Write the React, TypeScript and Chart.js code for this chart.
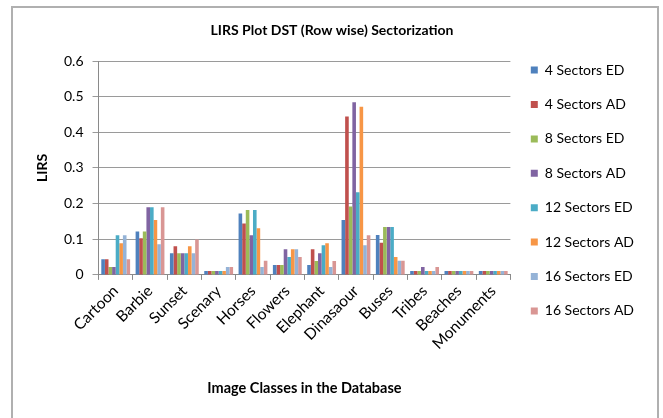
import { useEffect, useRef } from "react";
import { Chart, registerables } from "chart.js";

Chart.register(...registerables);

const categories = ["Cartoon", "Barbie", "Sunset", "Scenary", "Horses", "Flowers", "Elephant", "Dinasaour", "Buses", "Tribes", "Beaches", "Monuments"];
const seriesNames = ["4 Sectors ED", "4 Sectors AD", "8 Sectors ED", "8 Sectors AD", "12 Sectors ED", "12 Sectors AD", "16 Sectors ED", "16 Sectors AD"];
const s4ED = [0.044, 0.122, 0.061, 0.011, 0.172, 0.028, 0.028, 0.154, 0.112, 0.011, 0.011, 0.011];
const s4AD = [0.044, 0.103, 0.08, 0.011, 0.144, 0.028, 0.072, 0.444, 0.09, 0.011, 0.011, 0.011];
const s8ED = [0.022, 0.122, 0.061, 0.011, 0.182, 0.028, 0.039, 0.192, 0.134, 0.011, 0.011, 0.011];
const s8AD = [0.022, 0.19, 0.061, 0.011, 0.111, 0.072, 0.061, 0.484, 0.134, 0.022, 0.011, 0.011];
const s12ED = [0.111, 0.19, 0.061, 0.011, 0.182, 0.05, 0.083, 0.232, 0.134, 0.011, 0.011, 0.011];
const s12AD = [0.089, 0.154, 0.08, 0.011, 0.131, 0.072, 0.089, 0.472, 0.05, 0.011, 0.011, 0.011];
const s16ED = [0.111, 0.086, 0.061, 0.022, 0.022, 0.072, 0.022, 0.083, 0.04, 0.011, 0.011, 0.011];
const s16AD = [0.044, 0.19, 0.099, 0.022, 0.04, 0.05, 0.039, 0.111, 0.04, 0.022, 0.011, 0.011];
const seriesValues = [s4ED, s4AD, s8ED, s8AD, s12ED, s12AD, s16ED, s16AD];
const seriesColors = ["#4F81BD", "#C0504D", "#9BBB59", "#8064A2", "#4BACC6", "#F79646", "#95B3D7", "#D99694"];

const FONT = "Lato, 'Open Sans', sans-serif";

export default function App() {
  const canvasRef = useRef<HTMLCanvasElement | null>(null);

  useEffect(() => {
    const canvas = canvasRef.current;
    if (!canvas) return;
    const chart = new Chart(canvas, {
      type: "bar",
      data: {
        labels: categories,
        datasets: seriesNames.map((name, i) => ({
          label: name,
          data: seriesValues[i],
          backgroundColor: seriesColors[i],
          borderWidth: 0,
          categoryPercentage: 0.84,
          barPercentage: 1.0,
        })),
      },
      options: {
        animation: false,
        responsive: false,
        maintainAspectRatio: false,
        layout: { padding: { left: 20, right: 19, top: 0, bottom: 37 } },
        plugins: {
          tooltip: { enabled: false },
          title: {
            display: true,
            text: "LIRS Plot DST (Row wise) Sectorization",
            color: "#000",
            font: { family: FONT, size: 14, weight: "bold" },
            padding: { top: 21.6, bottom: 22.6 },
          },
          legend: {
            position: "right",
            align: "center",
            labels: {
              boxWidth: 7,
              boxHeight: 7,
              padding: 20.4,
              color: "#000",
              font: { family: FONT, size: 14 },
            },
          },
        },
        scales: {
          x: {
            grid: {
              display: true,
              drawOnChartArea: false,
              drawTicks: true,
              tickLength: 5,
              color: "#8a8a8a",
              offset: true,
            },
            border: { display: true, color: "#8a8a8a" },
            ticks: {
              color: "#000",
              font: { family: FONT, size: 15.5 },
              minRotation: 45,
              maxRotation: 45,
              padding: 2,
              autoSkip: false,
            },
            title: {
              display: true,
              text: "Image Classes in the Database",
              color: "#000",
              font: { family: FONT, size: 14.5, weight: "bold" },
              padding: { top: 24.3, bottom: -15.7 },
            },
          },
          y: {
            min: 0,
            max: 0.6,
            ticks: {
              stepSize: 0.1,
              color: "#000",
              font: { family: FONT, size: 14 },
              padding: 9,
            },
            grid: {
              color: "#9a9a9a",
              lineWidth: 1,
              tickLength: 6,
            },
            border: { display: true, color: "#8a8a8a" },
            title: {
              display: true,
              text: "LIRS",
              color: "#000",
              font: { family: FONT, size: 14, weight: "bold" },
              padding: { top: 13.6, bottom: 4.6 },
            },
          },
        },
      },
    });
    return () => chart.destroy();
  }, []);

  return (
    <div>
      <div
        style={{
          position: "fixed",
          left: 11,
          top: 6,
          width: 644,
          height: 420,
          borderTop: "2px solid #b0b0b0",
          borderLeft: "2px solid #b0b0b0",
          borderRight: "2px solid #b0b0b0",
          boxSizing: "content-box",
        }}
      />
      <canvas
        ref={canvasRef}
        width={663}
        height={418}
        style={{ position: "fixed", left: 0, top: 0, width: 663, height: 418 }}
      />
    </div>
  );
}
